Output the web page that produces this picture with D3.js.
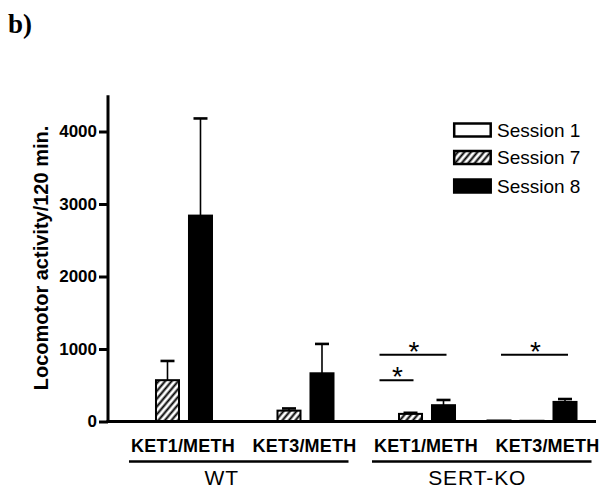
<!DOCTYPE html>
<html>
<head>
<meta charset="utf-8">
<script src="https://cdn.jsdelivr.net/npm/d3@7"></script>
<style>
  html, body { margin: 0; padding: 0; background: #fff; }
  svg { display: block; }
</style>
</head>
<body>
<svg id="chart" width="601" height="491"></svg>
<script>
// Locomotor activity over 120 min, by genotype, drug schedule and session.
const genotypes = ["WT", "SERT-KO"];
const schedules = ["KET1/METH", "KET3/METH"];
const sessions = ["Session 1", "Session 7", "Session 8"];

// Group keys in drawing order: genotype + schedule
const groups = ["WT|KET1/METH", "WT|KET3/METH", "SERT-KO|KET1/METH", "SERT-KO|KET3/METH"];

// Mean activity per group, one array per session (same order as groups)
const session1Mean = [0, 0, 0, 14];
const session7Mean = [570, 150, 105, 10];
const session8Mean = [2840, 665, 225, 270];

// SEM (drawn upward only)
const session1Err = [0, 0, 0, 0];
const session7Err = [265, 30, 15, 0];
const session8Err = [1340, 405, 72, 40];

const yTicks = [0, 1000, 2000, 3000, 4000];

// Significance brackets: group, from-session, to-session, height (activity units)
const sigGroup = ["SERT-KO|KET1/METH", "SERT-KO|KET1/METH", "SERT-KO|KET3/METH"];
const sigFrom = ["Session 1", "Session 1", "Session 1"];
const sigTo = ["Session 8", "Session 7", "Session 8"];
const sigLevel = [920, 570, 920];

const means = [session1Mean, session7Mean, session8Mean];
const errs = [session1Err, session7Err, session8Err];

const svg = d3.select("#chart");
const font = "Arial, 'Liberation Sans', Helvetica, sans-serif";

const y = d3.scaleLinear().domain([0, 4500]).range([421.5, 95.25]);

const x0 = d3.scaleBand().domain(groups)
  .range([106.8, 592.7]).paddingInner(0.251).paddingOuter(0.125);
const x1 = d3.scaleBand().domain(sessions)
  .range([0, x0.bandwidth()]).paddingInner(0.242);

// Hatch pattern for Session 7
const defs = svg.append("defs");
defs.append("pattern")
  .attr("id", "hatch")
  .attr("patternUnits", "userSpaceOnUse")
  .attr("width", 5).attr("height", 5)
  .attr("patternTransform", "rotate(40)")
  .call(p => {
    p.append("rect").attr("width", 5).attr("height", 5).attr("fill", "#fff");
    p.append("line").attr("x1", 1.5).attr("y1", 0).attr("x2", 1.5).attr("y2", 5)
      .attr("stroke", "#000").attr("stroke-width", 2);
  });

const fillFor = { "Session 1": "#fff", "Session 7": "url(#hatch)", "Session 8": "#000" };

// Panel label
svg.append("text")
  .attr("x", 8).attr("y", 33)
  .attr("font-family", "'Liberation Serif', 'Times New Roman', serif")
  .attr("font-weight", "bold").attr("font-size", 27)
  .text("b)");

// Bars
const barData = [];
groups.forEach((g, gi) => {
  sessions.forEach((s, si) => {
    barData.push({ group: g, session: s, value: means[si][gi], err: errs[si][gi] });
  });
});

const bars = svg.append("g");
bars.selectAll("rect")
  .data(barData.filter(d => d.value > 0))
  .join("rect")
  .attr("x", d => x0(d.group) + x1(d.session) + 1)
  .attr("y", d => y(d.value))
  .attr("width", x1.bandwidth() - 2)
  .attr("height", d => y(0) - y(d.value))
  .attr("fill", d => fillFor[d.session])
  .attr("stroke", "#000")
  .attr("stroke-width", 2);

// Error bars
const eb = svg.append("g").attr("stroke", "#000");
barData.filter(d => d.err > 0).forEach(d => {
  const cx = x0(d.group) + x1(d.session) + x1.bandwidth() / 2;
  eb.append("line")
    .attr("x1", cx).attr("x2", cx)
    .attr("y1", y(d.value)).attr("y2", y(d.value + d.err))
    .attr("stroke-width", 1.6);
  eb.append("line")
    .attr("x1", cx - 7).attr("x2", cx + 7)
    .attr("y1", y(d.value + d.err)).attr("y2", y(d.value + d.err))
    .attr("stroke-width", 2.6);
});

// Y axis
const yAxis = svg.append("g")
  .attr("transform", "translate(108,0)")
  .call(d3.axisLeft(y).tickValues(yTicks).tickSize(9).tickPadding(2).tickFormat(d3.format("d")));
yAxis.select(".domain").remove();
yAxis.selectAll(".tick line").attr("stroke", "#000").attr("stroke-width", 3);
yAxis.selectAll(".tick text")
  .attr("font-family", font).attr("font-weight", "bold").attr("font-size", 17).attr("fill", "#000");
svg.append("line")
  .attr("x1", 108).attr("x2", 108)
  .attr("y1", y(4500)).attr("y2", y(0) + 1.5)
  .attr("stroke", "#000").attr("stroke-width", 3);

// Baseline
svg.append("line")
  .attr("x1", 106.5).attr("x2", 596)
  .attr("y1", y(0)).attr("y2", y(0))
  .attr("stroke", "#000").attr("stroke-width", 3);

// Y axis title
svg.append("text")
  .attr("transform", "translate(48,258) rotate(-90)")
  .attr("text-anchor", "middle")
  .attr("font-family", font).attr("font-weight", "bold").attr("font-size", 20)
  .text("Locomotor activity/120 min.");

// Schedule labels under each group
svg.append("g").selectAll("text")
  .data(groups)
  .join("text")
  .attr("x", g => x0(g) + x0.bandwidth() / 2 + 15.5)
  .attr("y", 452)
  .attr("text-anchor", "middle")
  .attr("font-family", font).attr("font-weight", "bold").attr("font-size", 18)
  .attr("letter-spacing", 0.2)
  .text(g => g.split("|")[1]);

// Genotype underlines and labels
const genoLabelShift = { "WT": -17, "SERT-KO": -4.5 };
genotypes.forEach(gt => {
  const gs = groups.filter(g => g.startsWith(gt + "|"));
  const xa = x0(gs[0]) + 7;
  const xb = Math.min(x0(gs[gs.length - 1]) + x0.bandwidth() + 14, 598);
  svg.append("line")
    .attr("x1", xa).attr("x2", xb)
    .attr("y1", 461.5).attr("y2", 461.5)
    .attr("stroke", "#000").attr("stroke-width", 2.6);
  svg.append("text")
    .attr("x", (xa + xb) / 2 + genoLabelShift[gt])
    .attr("y", 485)
    .attr("text-anchor", "middle")
    .attr("font-family", font).attr("font-size", 21)
    .attr("letter-spacing", 0.9)
    .text(gt);
});

// Significance brackets
const sig = svg.append("g");
sigGroup.forEach((g, i) => {
  const xa = x0(g) + x1(sigFrom[i]) + x1.bandwidth() / 2 + 2;
  const xb = x0(g) + x1(sigTo[i]) + x1.bandwidth() / 2 + 3;
  const yy = y(sigLevel[i]);
  sig.append("line")
    .attr("x1", xa).attr("x2", xb)
    .attr("y1", yy).attr("y2", yy)
    .attr("stroke", "#000").attr("stroke-width", 2);
  sig.append("text")
    .attr("x", (xa + xb) / 2 + 1)
    .attr("y", yy + 6)
    .attr("text-anchor", "middle")
    .attr("font-family", font).attr("font-size", 28)
    .text("*");
});

// Legend
const legend = svg.append("g").attr("transform", "translate(453,0)");
const legendY = [130, 157.5, 186];
sessions.forEach((s, i) => {
  legend.append("rect")
    .attr("x", 1.2).attr("y", legendY[i] - 6.5)
    .attr("width", 36.5).attr("height", 13)
    .attr("fill", fillFor[s])
    .attr("stroke", "#000").attr("stroke-width", 2.5);
  legend.append("text")
    .attr("x", 44).attr("y", legendY[i])
    .attr("dy", "0.35em")
    .attr("font-family", font).attr("font-size", 19)
    .text(s);
});
</script>
</body>
</html>
